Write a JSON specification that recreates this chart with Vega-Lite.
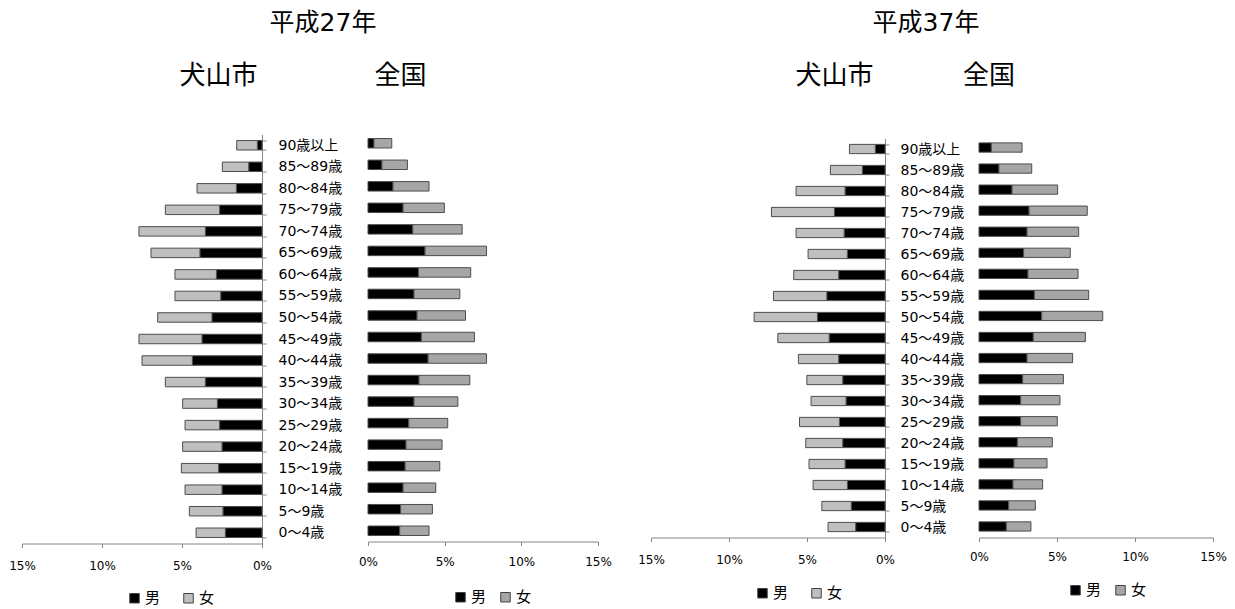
{
  "$schema": "https://vega.github.io/schema/vega-lite/v6.json",
  "padding": {"left": 0, "top": -6.5, "right": 0, "bottom": 0},
  "autosize": {"type": "pad"},
  "background": "white",
  "config": {
    "view": {"stroke": null},
    "axis": {"grid": false},
    "bar": {"stroke": "#4D4D4D", "strokeWidth": 1}
  },
  "spacing": 0,
  "bounds": "flush",
  "resolve": {
    "scale": {"x": "independent", "y": "independent", "color": "independent"},
    "legend": {"color": "independent"},
    "axis": {"x": "independent", "y": "independent"}
  },
  "datasets": {
    "h27_inuyama": [
      {"age": "90歳以上", "sex": "男", "pct": 0.29}, {"age": "90歳以上", "sex": "女", "pct": 1.29},
      {"age": "85～89歳", "sex": "男", "pct": 0.83}, {"age": "85～89歳", "sex": "女", "pct": 1.65},
      {"age": "80～84歳", "sex": "男", "pct": 1.60}, {"age": "80～84歳", "sex": "女", "pct": 2.46},
      {"age": "75～79歳", "sex": "男", "pct": 2.65}, {"age": "75～79歳", "sex": "女", "pct": 3.39},
      {"age": "70～74歳", "sex": "男", "pct": 3.54}, {"age": "70～74歳", "sex": "女", "pct": 4.15},
      {"age": "65～69歳", "sex": "男", "pct": 3.88}, {"age": "65～69歳", "sex": "女", "pct": 3.06},
      {"age": "60～64歳", "sex": "男", "pct": 2.85}, {"age": "60～64歳", "sex": "女", "pct": 2.59},
      {"age": "55～59歳", "sex": "男", "pct": 2.58}, {"age": "55～59歳", "sex": "女", "pct": 2.86},
      {"age": "50～54歳", "sex": "男", "pct": 3.13}, {"age": "50～54歳", "sex": "女", "pct": 3.39},
      {"age": "45～49歳", "sex": "男", "pct": 3.75}, {"age": "45～49歳", "sex": "女", "pct": 3.94},
      {"age": "40～44歳", "sex": "男", "pct": 4.35}, {"age": "40～44歳", "sex": "女", "pct": 3.15},
      {"age": "35～39歳", "sex": "男", "pct": 3.54}, {"age": "35～39歳", "sex": "女", "pct": 2.50},
      {"age": "30～34歳", "sex": "男", "pct": 2.79}, {"age": "30～34歳", "sex": "女", "pct": 2.17},
      {"age": "25～29歳", "sex": "男", "pct": 2.65}, {"age": "25～29歳", "sex": "女", "pct": 2.16},
      {"age": "20～24歳", "sex": "男", "pct": 2.50}, {"age": "20～24歳", "sex": "女", "pct": 2.46},
      {"age": "15～19歳", "sex": "男", "pct": 2.71}, {"age": "15～19歳", "sex": "女", "pct": 2.33},
      {"age": "10～14歳", "sex": "男", "pct": 2.50}, {"age": "10～14歳", "sex": "女", "pct": 2.31},
      {"age": "5～9歳", "sex": "男", "pct": 2.44}, {"age": "5～9歳", "sex": "女", "pct": 2.10},
      {"age": "0～4歳", "sex": "男", "pct": 2.29}, {"age": "0～4歳", "sex": "女", "pct": 1.83}
    ],
    "h27_zenkoku": [
      {"age": "90歳以上", "sex": "男", "pct": 0.39}, {"age": "90歳以上", "sex": "女", "pct": 1.16},
      {"age": "85～89歳", "sex": "男", "pct": 0.91}, {"age": "85～89歳", "sex": "女", "pct": 1.66},
      {"age": "80～84歳", "sex": "男", "pct": 1.63}, {"age": "80～84歳", "sex": "女", "pct": 2.35},
      {"age": "75～79歳", "sex": "男", "pct": 2.29}, {"age": "75～79歳", "sex": "女", "pct": 2.69},
      {"age": "70～74歳", "sex": "男", "pct": 2.92}, {"age": "70～74歳", "sex": "女", "pct": 3.22},
      {"age": "65～69歳", "sex": "男", "pct": 3.72}, {"age": "65～69歳", "sex": "女", "pct": 4.01},
      {"age": "60～64歳", "sex": "男", "pct": 3.29}, {"age": "60～64歳", "sex": "女", "pct": 3.41},
      {"age": "55～59歳", "sex": "男", "pct": 3.00}, {"age": "55～59歳", "sex": "女", "pct": 2.99},
      {"age": "50～54歳", "sex": "男", "pct": 3.20}, {"age": "50～54歳", "sex": "女", "pct": 3.16},
      {"age": "45～49歳", "sex": "男", "pct": 3.48}, {"age": "45～49歳", "sex": "女", "pct": 3.46},
      {"age": "40～44歳", "sex": "男", "pct": 3.92}, {"age": "40～44歳", "sex": "女", "pct": 3.81},
      {"age": "35～39歳", "sex": "男", "pct": 3.33}, {"age": "35～39歳", "sex": "女", "pct": 3.31},
      {"age": "30～34歳", "sex": "男", "pct": 3.00}, {"age": "30～34歳", "sex": "女", "pct": 2.86},
      {"age": "25～29歳", "sex": "男", "pct": 2.66}, {"age": "25～29歳", "sex": "女", "pct": 2.54},
      {"age": "20～24歳", "sex": "男", "pct": 2.48}, {"age": "20～24歳", "sex": "女", "pct": 2.35},
      {"age": "15～19歳", "sex": "男", "pct": 2.42}, {"age": "15～19歳", "sex": "女", "pct": 2.26},
      {"age": "10～14歳", "sex": "男", "pct": 2.29}, {"age": "10～14歳", "sex": "女", "pct": 2.13},
      {"age": "5～9歳", "sex": "男", "pct": 2.13}, {"age": "5～9歳", "sex": "女", "pct": 2.07},
      {"age": "0～4歳", "sex": "男", "pct": 2.07}, {"age": "0～4歳", "sex": "女", "pct": 1.91}
    ],
    "h37_inuyama": [
      {"age": "90歳以上", "sex": "男", "pct": 0.62}, {"age": "90歳以上", "sex": "女", "pct": 1.66},
      {"age": "85～89歳", "sex": "男", "pct": 1.45}, {"age": "85～89歳", "sex": "女", "pct": 2.05},
      {"age": "80～84歳", "sex": "男", "pct": 2.56}, {"age": "80～84歳", "sex": "女", "pct": 3.14},
      {"age": "75～79歳", "sex": "男", "pct": 3.24}, {"age": "75～79歳", "sex": "女", "pct": 4.04},
      {"age": "70～74歳", "sex": "男", "pct": 2.62}, {"age": "70～74歳", "sex": "女", "pct": 3.08},
      {"age": "65～69歳", "sex": "男", "pct": 2.41}, {"age": "65～69歳", "sex": "女", "pct": 2.52},
      {"age": "60～64歳", "sex": "男", "pct": 2.97}, {"age": "60～64歳", "sex": "女", "pct": 2.88},
      {"age": "55～59歳", "sex": "男", "pct": 3.73}, {"age": "55～59歳", "sex": "女", "pct": 3.42},
      {"age": "50～54歳", "sex": "男", "pct": 4.33}, {"age": "50～54歳", "sex": "女", "pct": 4.06},
      {"age": "45～49歳", "sex": "男", "pct": 3.58}, {"age": "45～49歳", "sex": "女", "pct": 3.29},
      {"age": "40～44歳", "sex": "男", "pct": 2.97}, {"age": "40～44歳", "sex": "女", "pct": 2.58},
      {"age": "35～39歳", "sex": "男", "pct": 2.71}, {"age": "35～39歳", "sex": "女", "pct": 2.30},
      {"age": "30～34歳", "sex": "男", "pct": 2.50}, {"age": "30～34歳", "sex": "女", "pct": 2.24},
      {"age": "25～29歳", "sex": "男", "pct": 2.92}, {"age": "25～29歳", "sex": "女", "pct": 2.56},
      {"age": "20～24歳", "sex": "男", "pct": 2.71}, {"age": "20～24歳", "sex": "女", "pct": 2.37},
      {"age": "15～19歳", "sex": "男", "pct": 2.56}, {"age": "15～19歳", "sex": "女", "pct": 2.31},
      {"age": "10～14歳", "sex": "男", "pct": 2.41}, {"age": "10～14歳", "sex": "女", "pct": 2.20},
      {"age": "5～9歳", "sex": "男", "pct": 2.16}, {"age": "5～9歳", "sex": "女", "pct": 1.89},
      {"age": "0～4歳", "sex": "男", "pct": 1.88}, {"age": "0～4歳", "sex": "女", "pct": 1.77}
    ],
    "h37_zenkoku": [
      {"age": "90歳以上", "sex": "男", "pct": 0.79}, {"age": "90歳以上", "sex": "女", "pct": 1.97},
      {"age": "85～89歳", "sex": "男", "pct": 1.28}, {"age": "85～89歳", "sex": "女", "pct": 2.10},
      {"age": "80～84歳", "sex": "男", "pct": 2.12}, {"age": "80～84歳", "sex": "女", "pct": 2.92},
      {"age": "75～79歳", "sex": "男", "pct": 3.21}, {"age": "75～79歳", "sex": "女", "pct": 3.73},
      {"age": "70～74歳", "sex": "男", "pct": 3.08}, {"age": "70～74歳", "sex": "女", "pct": 3.31},
      {"age": "65～69歳", "sex": "男", "pct": 2.86}, {"age": "65～69歳", "sex": "女", "pct": 2.99},
      {"age": "60～64歳", "sex": "男", "pct": 3.14}, {"age": "60～64歳", "sex": "女", "pct": 3.21},
      {"age": "55～59歳", "sex": "男", "pct": 3.55}, {"age": "55～59歳", "sex": "女", "pct": 3.48},
      {"age": "50～54歳", "sex": "男", "pct": 4.02}, {"age": "50～54歳", "sex": "女", "pct": 3.91},
      {"age": "45～49歳", "sex": "男", "pct": 3.48}, {"age": "45～49歳", "sex": "女", "pct": 3.34},
      {"age": "40～44歳", "sex": "男", "pct": 3.08}, {"age": "40～44歳", "sex": "女", "pct": 2.92},
      {"age": "35～39歳", "sex": "男", "pct": 2.80}, {"age": "35～39歳", "sex": "女", "pct": 2.61},
      {"age": "30～34歳", "sex": "男", "pct": 2.67}, {"age": "30～34歳", "sex": "女", "pct": 2.52},
      {"age": "25～29歳", "sex": "男", "pct": 2.67}, {"age": "25～29歳", "sex": "女", "pct": 2.35},
      {"age": "20～24歳", "sex": "男", "pct": 2.46}, {"age": "20～24歳", "sex": "女", "pct": 2.24},
      {"age": "15～19歳", "sex": "男", "pct": 2.24}, {"age": "15～19歳", "sex": "女", "pct": 2.12},
      {"age": "10～14歳", "sex": "男", "pct": 2.18}, {"age": "10～14歳", "sex": "女", "pct": 1.90},
      {"age": "5～9歳", "sex": "男", "pct": 1.90}, {"age": "5～9歳", "sex": "女", "pct": 1.71},
      {"age": "0～4歳", "sex": "男", "pct": 1.75}, {"age": "0～4歳", "sex": "女", "pct": 1.58}
    ]
  },
  "hconcat": [
    {
      "width": 262, "height": 543,
      "data": {"name": "h27_inuyama"},
      "mark": {"type": "bar"},
      "encoding": {
        "y": {"field": "age", "type": "nominal",
          "sort": ["90歳以上","85～89歳","80～84歳","75～79歳","70～74歳","65～69歳","60～64歳","55～59歳","50～54歳","45～49歳","40～44歳","35～39歳","30～34歳","25～29歳","20～24歳","15～19歳","10～14歳","5～9歳","0～4歳"],
          "scale": {"range": [134, 543], "paddingInner": 0.56, "paddingOuter": 0.28},
          "axis": {"orient": "right", "tickBand": "extent", "domainColor": "#868686", "tickColor": "#868686", "tickSize": 4, "labelPadding": 12, "labelFontSize": 14, "labelColor": "#000000", "labelFont": "DejaVu Sans, Noto Sans CJK JP", "labelAlign": "left", "labelBaseline": "middle",
            "title": "平成27年", "titleAngle": 0, "titleX": 60.5, "titleY": 21.5, "titleAlign": "center", "titleBaseline": "middle", "titleFontSize": 25, "titleFontWeight": "normal", "titleFont": "DejaVu Sans, Noto Sans CJK JP", "titleColor": "#000000"}
        },
        "x": {"field": "pct", "type": "quantitative", "stack": "zero",
          "scale": {"domain": [0, 15], "range": [262, 22], "nice": false, "zero": true},
          "axis": {"values": [0, 5, 10, 15], "labelExpr": "datum.value + '%'", "labelFlush": false, "labelOverlap": false, "domainColor": "#868686", "tickColor": "#868686", "tickSize": 4, "labelPadding": 13, "labelFontSize": 12, "labelFont": "DejaVu Sans", "labelColor": "#000000",
            "title": "犬山市", "titleX": 218, "titleY": -468, "titleAlign": "center", "titleBaseline": "middle", "titleFontSize": 26, "titleFontWeight": "normal", "titleFont": "Noto Sans CJK JP", "titleColor": "#000000"}
        },
        "color": {"field": "sex", "type": "nominal",
          "scale": {"domain": ["男", "女"], "range": ["#000000", "#BFBFBF"]},
          "legend": {"orient": "none", "legendX": 127, "legendY": 590, "direction": "horizontal", "title": null, "padding": 0, "symbolType": "square", "symbolSize": 90, "symbolStrokeColor": "#404040", "symbolStrokeWidth": 1, "labelFontSize": 15, "labelFont": "Noto Sans CJK JP", "labelColor": "#000000", "columnPadding": 20, "labelOffset": 3}
        },
        "order": {"field": "sex", "sort": "descending"}
      }
    },
    {
      "width": 336, "height": 541,
      "data": {"name": "h27_zenkoku"},
      "mark": {"type": "bar"},
      "encoding": {
        "y": {"field": "age", "type": "nominal",
          "sort": ["90歳以上","85～89歳","80～84歳","75～79歳","70～74歳","65～69歳","60～64歳","55～59歳","50～54歳","45～49歳","40～44歳","35～39歳","30～34歳","25～29歳","20～24歳","15～19歳","10～14歳","5～9歳","0～4歳"],
          "scale": {"range": [132, 541], "paddingInner": 0.56, "paddingOuter": 0.28},
          "axis": null
        },
        "x": {"field": "pct", "type": "quantitative", "stack": "zero",
          "scale": {"domain": [0, 15], "range": [106, 336], "nice": false, "zero": true},
          "axis": {"values": [0, 5, 10, 15], "labelExpr": "datum.value + '%'", "labelFlush": false, "labelOverlap": false, "domainColor": "#868686", "tickColor": "#868686", "tickSize": 4, "labelPadding": 11, "labelFontSize": 12, "labelFont": "DejaVu Sans", "labelColor": "#000000",
            "title": "全国", "titleX": 138, "titleY": -466, "titleAlign": "center", "titleBaseline": "middle", "titleFontSize": 26, "titleFontWeight": "normal", "titleFont": "Noto Sans CJK JP", "titleColor": "#000000"}
        },
        "color": {"field": "sex", "type": "nominal",
          "scale": {"domain": ["男", "女"], "range": ["#000000", "#A6A6A6"]},
          "legend": {"orient": "none", "legendX": 191, "legendY": 589, "direction": "horizontal", "title": null, "padding": 0, "symbolType": "square", "symbolSize": 90, "symbolStrokeColor": "#404040", "symbolStrokeWidth": 1, "labelFontSize": 15, "labelFont": "Noto Sans CJK JP", "labelColor": "#000000", "columnPadding": 11, "labelOffset": 3}
        },
        "order": {"field": "sex", "sort": "descending"}
      }
    },
    {
      "width": 287, "height": 537,
      "data": {"name": "h37_inuyama"},
      "mark": {"type": "bar"},
      "encoding": {
        "y": {"field": "age", "type": "nominal",
          "sort": ["90歳以上","85～89歳","80～84歳","75～79歳","70～74歳","65～69歳","60～64歳","55～59歳","50～54歳","45～49歳","40～44歳","35～39歳","30～34歳","25～29歳","20～24歳","15～19歳","10～14歳","5～9歳","0～4歳"],
          "scale": {"range": [138, 537], "paddingInner": 0.56, "paddingOuter": 0.28},
          "axis": {"orient": "right", "tickBand": "extent", "domainColor": "#868686", "tickColor": "#868686", "tickSize": 4, "labelPadding": 11, "labelFontSize": 14, "labelColor": "#000000", "labelFont": "DejaVu Sans, Noto Sans CJK JP", "labelAlign": "left", "labelBaseline": "middle",
            "title": "平成37年", "titleAngle": 0, "titleX": 40.5, "titleY": 21.5, "titleAlign": "center", "titleBaseline": "middle", "titleFontSize": 25, "titleFontWeight": "normal", "titleFont": "DejaVu Sans, Noto Sans CJK JP", "titleColor": "#000000"}
        },
        "x": {"field": "pct", "type": "quantitative", "stack": "zero",
          "scale": {"domain": [0, 15], "range": [287, 53], "nice": false, "zero": true},
          "axis": {"values": [0, 5, 10, 15], "labelExpr": "datum.value + '%'", "labelFlush": false, "labelOverlap": false, "domainColor": "#868686", "tickColor": "#868686", "tickSize": 4, "labelPadding": 13, "labelFontSize": 12, "labelFont": "DejaVu Sans", "labelColor": "#000000",
            "title": "犬山市", "titleX": 236, "titleY": -462, "titleAlign": "center", "titleBaseline": "middle", "titleFontSize": 26, "titleFontWeight": "normal", "titleFont": "Noto Sans CJK JP", "titleColor": "#000000"}
        },
        "color": {"field": "sex", "type": "nominal",
          "scale": {"domain": ["男", "女"], "range": ["#000000", "#BFBFBF"]},
          "legend": {"orient": "none", "legendX": 157, "legendY": 585, "direction": "horizontal", "title": null, "padding": 0, "symbolType": "square", "symbolSize": 90, "symbolStrokeColor": "#404040", "symbolStrokeWidth": 1, "labelFontSize": 15, "labelFont": "Noto Sans CJK JP", "labelColor": "#000000", "columnPadding": 20, "labelOffset": 3}
        },
        "order": {"field": "sex", "sort": "descending"}
      }
    },
    {
      "width": 328, "height": 537,
      "data": {"name": "h37_zenkoku"},
      "mark": {"type": "bar"},
      "encoding": {
        "y": {"field": "age", "type": "nominal",
          "sort": ["90歳以上","85～89歳","80～84歳","75～79歳","70～74歳","65～69歳","60～64歳","55～59歳","50～54歳","45～49歳","40～44歳","35～39歳","30～34歳","25～29歳","20～24歳","15～19歳","10～14歳","5～9歳","0～4歳"],
          "scale": {"range": [136.5, 536.5], "paddingInner": 0.56, "paddingOuter": 0.28},
          "axis": null
        },
        "x": {"field": "pct", "type": "quantitative", "stack": "zero",
          "scale": {"domain": [0, 15], "range": [94, 328], "nice": false, "zero": true},
          "axis": {"values": [0, 5, 10, 15], "labelExpr": "datum.value + '%'", "labelFlush": false, "labelOverlap": false, "domainColor": "#868686", "tickColor": "#868686", "tickSize": 4, "labelPadding": 10, "labelFontSize": 12, "labelFont": "DejaVu Sans", "labelColor": "#000000",
            "title": "全国", "titleX": 103.5, "titleY": -462, "titleAlign": "center", "titleBaseline": "middle", "titleFontSize": 26, "titleFontWeight": "normal", "titleFont": "Noto Sans CJK JP", "titleColor": "#000000"}
        },
        "color": {"field": "sex", "type": "nominal",
          "scale": {"domain": ["男", "女"], "range": ["#000000", "#A6A6A6"]},
          "legend": {"orient": "none", "legendX": 183, "legendY": 582, "direction": "horizontal", "title": null, "padding": 0, "symbolType": "square", "symbolSize": 90, "symbolStrokeColor": "#404040", "symbolStrokeWidth": 1, "labelFontSize": 15, "labelFont": "Noto Sans CJK JP", "labelColor": "#000000", "columnPadding": 11, "labelOffset": 3}
        },
        "order": {"field": "sex", "sort": "descending"}
      }
    }
  ]
}
